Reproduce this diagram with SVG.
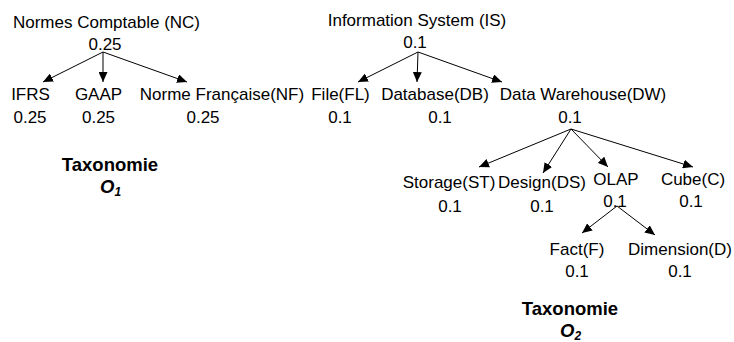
<svg xmlns="http://www.w3.org/2000/svg" width="734" height="342" viewBox="0 0 734 342">
<style>
.t{font-family:"Liberation Sans",Arial,sans-serif;font-size:17px;fill:#000;text-anchor:middle}
.b{font-family:"Liberation Sans",Arial,sans-serif;font-size:18.5px;font-weight:bold;fill:#000;text-anchor:middle}
.o{font-family:"Liberation Sans",Arial,sans-serif;font-size:18.5px;font-weight:bold;font-style:italic;fill:#000}
.c{stroke:#000;stroke-width:1;fill:none;marker-end:url(#ah)}
</style>
<defs>
<marker id="ah" markerUnits="userSpaceOnUse" markerWidth="10" markerHeight="9" viewBox="0 0 10 9" refX="10" refY="4.5" orient="auto">
<path d="M0,0 L10,4.5 L0,9 z" fill="#000"/>
</marker>
</defs>
<rect width="734" height="342" fill="#fff"/>
<g id="connectors">
<line class="c" x1="103" y1="52" x2="43" y2="82"/>
<line class="c" x1="103" y1="52" x2="103" y2="82"/>
<line class="c" x1="103" y1="52" x2="187" y2="82"/>
<line class="c" x1="418" y1="52" x2="358" y2="82"/>
<line class="c" x1="418" y1="52" x2="417" y2="82"/>
<line class="c" x1="418" y1="52" x2="502" y2="82"/>
<line class="c" x1="571" y1="129" x2="479" y2="167"/>
<line class="c" x1="571" y1="129" x2="543" y2="173"/>
<line class="c" x1="571" y1="129" x2="608" y2="167"/>
<line class="c" x1="571" y1="129" x2="693" y2="167"/>
<line class="c" x1="617" y1="206" x2="582" y2="233"/>
<line class="c" x1="617" y1="206" x2="655" y2="235"/>
</g>
<g id="NC"><text class="t" x="106.5" y="28">Normes Comptable (NC)</text><text class="t" x="105" y="50">0.25</text></g>
<g id="IFRS"><text class="t" x="30.5" y="100">IFRS</text><text class="t" x="30" y="123">0.25</text></g>
<g id="GAAP"><text class="t" x="98.5" y="100">GAAP</text><text class="t" x="98.5" y="123">0.25</text></g>
<g id="NF"><text class="t" x="222" y="100">Norme Française(NF)</text><text class="t" x="203" y="123">0.25</text></g>
<g id="O1"><text class="b" x="110" y="171">Taxonomie</text><text class="o" x="100" y="193">O<tspan font-size="12" dy="3">1</tspan></text></g>
<g id="IS"><text class="t" x="417" y="26">Information System (IS)</text><text class="t" x="415" y="48">0.1</text></g>
<g id="FL"><text class="t" x="340.5" y="100">File(FL)</text><text class="t" x="340" y="123">0.1</text></g>
<g id="DB"><text class="t" x="435" y="100">Database(DB)</text><text class="t" x="440" y="123">0.1</text></g>
<g id="DW"><text class="t" x="583" y="100">Data Warehouse(DW)</text><text class="t" x="570" y="123">0.1</text></g>
<g id="ST"><text class="t" x="449" y="188">Storage(ST)</text><text class="t" x="450" y="212">0.1</text></g>
<g id="DS"><text class="t" x="542" y="188">Design(DS)</text><text class="t" x="542" y="212">0.1</text></g>
<g id="OLAP"><text class="t" x="616" y="185">OLAP</text><text class="t" x="615" y="207">0.1</text></g>
<g id="C"><text class="t" x="693" y="185">Cube(C)</text><text class="t" x="691" y="207">0.1</text></g>
<g id="F"><text class="t" x="577" y="255">Fact(F)</text><text class="t" x="577" y="277">0.1</text></g>
<g id="D"><text class="t" x="680" y="255">Dimension(D)</text><text class="t" x="680" y="277">0.1</text></g>
<g id="O2"><text class="b" x="570" y="315">Taxonomie</text><text class="o" x="560" y="337">O<tspan font-size="12" dy="3">2</tspan></text></g>
</svg>
